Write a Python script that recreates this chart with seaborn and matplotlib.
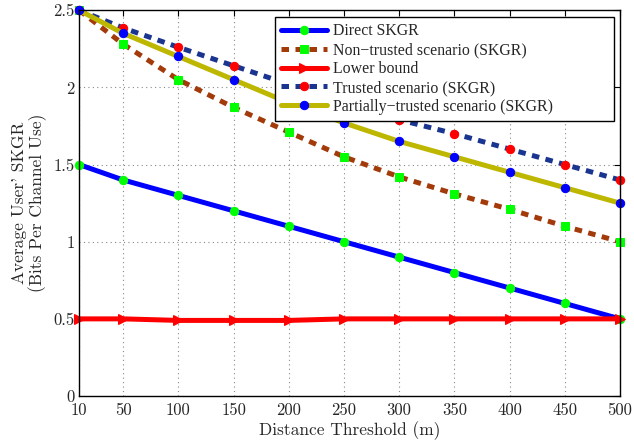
import matplotlib
matplotlib.use("Agg")
import matplotlib.pyplot as plt
import seaborn as sns
import pandas as pd

# Distance thresholds (m)
distance = [10, 50, 100, 150, 200, 250, 300, 350, 400, 450, 500]

# Average user SKGR (bits per channel use) for each scheme
direct_skgr = [1.50, 1.40, 1.30, 1.20, 1.10, 1.00, 0.90, 0.80, 0.70, 0.60, 0.50]
non_trusted = [2.50, 2.28, 2.05, 1.87, 1.71, 1.55, 1.42, 1.31, 1.21, 1.10, 1.00]
lower_bound = [0.50, 0.50, 0.49, 0.49, 0.49, 0.50, 0.50, 0.50, 0.50, 0.50, 0.50]
trusted = [2.50, 2.385, 2.26, 2.14, 2.02, 1.91, 1.79, 1.70, 1.60, 1.50, 1.40]
partially_trusted = [2.50, 2.35, 2.20, 2.05, 1.90, 1.77, 1.65, 1.55, 1.45, 1.35, 1.25]

x_ticks = [10, 50, 100, 150, 200, 250, 300, 350, 400, 450, 500]
y_ticks = [0, 0.5, 1, 1.5, 2, 2.5]
y_tick_labels = ["0", "0.5", "1", "1.5", "2", "2.5"]

sns.set_style("white")
plt.rcParams["font.family"] = ["cmr10", "DejaVu Serif"]
plt.rcParams["axes.unicode_minus"] = False
plt.rcParams["axes.formatter.use_mathtext"] = False

fig = plt.figure(figsize=(6.34, 4.43), dpi=100)
ax = fig.add_axes([0.1246, 0.106, 0.9779 - 0.1246, 0.977 - 0.106])

series = [
    ("Direct SKGR", direct_skgr,
     dict(color="#0000FF", linestyle="-", marker="o", markersize=6,
          markerfacecolor="#00FF00", markeredgecolor="#00FF00")),
    ("Non\u2212trusted scenario (SKGR)", non_trusted,
     dict(color="#A33A0A", linestyle=(0, (1.5, 1.3)), marker="s", markersize=5.5,
          markerfacecolor="#00FF00", markeredgecolor="#00FF00")),
    ("Lower bound", lower_bound,
     dict(color="#FF0000", linestyle="-", marker=">", markersize=7,
          markerfacecolor="#FF0000", markeredgecolor="#FF0000")),
    ("Trusted scenario (SKGR)", trusted,
     dict(color="#1A3590", linestyle=(0, (1.5, 1.3)), marker="o", markersize=6,
          markerfacecolor="#FF0000", markeredgecolor="#FF0000")),
    ("Partially\u2212trusted scenario (SKGR)", partially_trusted,
     dict(color="#BDB700", linestyle="-", marker="o", markersize=6,
          markerfacecolor="#0000FF", markeredgecolor="#0000FF")),
]

for name, values, style in series:
    df = pd.DataFrame({"distance": distance, "skgr": values})
    sns.lineplot(data=df, x="distance", y="skgr", ax=ax, label=name,
                 linewidth=3.6, clip_on=False, **style)

ax.set_xlim(10, 500)
ax.set_ylim(0, 2.5)
ax.set_xticks(x_ticks)
ax.set_xticklabels([str(t) for t in x_ticks])
ax.set_yticks(y_ticks)
ax.set_yticklabels(y_tick_labels)

ax.grid(True, linestyle=(0, (1, 3)), color="#888888", linewidth=0.8)
ax.tick_params(direction="in", top=True, right=True, length=4,
               labelsize=12, color="black")
ax.tick_params(axis="x", pad=5)
ax.tick_params(axis="y", pad=3)
for s in ax.spines.values():
    s.set_color("black")
    s.set_linewidth(1.0)

ax.set_xlabel("Distance Threshold (m)", fontsize=12.5, labelpad=2)
ax.set_ylabel("Average User' SKGR\n(Bits Per Channel Use)", fontsize=12.5,
              labelpad=5, linespacing=1.05)

leg = ax.legend(loc="upper left", bbox_to_anchor=(0.362, 0.0, 0.627, 0.982),
                mode="expand", frameon=True, fancybox=False,
                prop={"family": ["Liberation Serif", "DejaVu Serif"], "size": 11.4},
                edgecolor="black", framealpha=1, handlelength=2.9,
                labelspacing=0.18, borderpad=0.4, handletextpad=0.4,
                borderaxespad=0.0)
leg.get_frame().set_linewidth(1.0)

fig.savefig("out.png", dpi=100)
